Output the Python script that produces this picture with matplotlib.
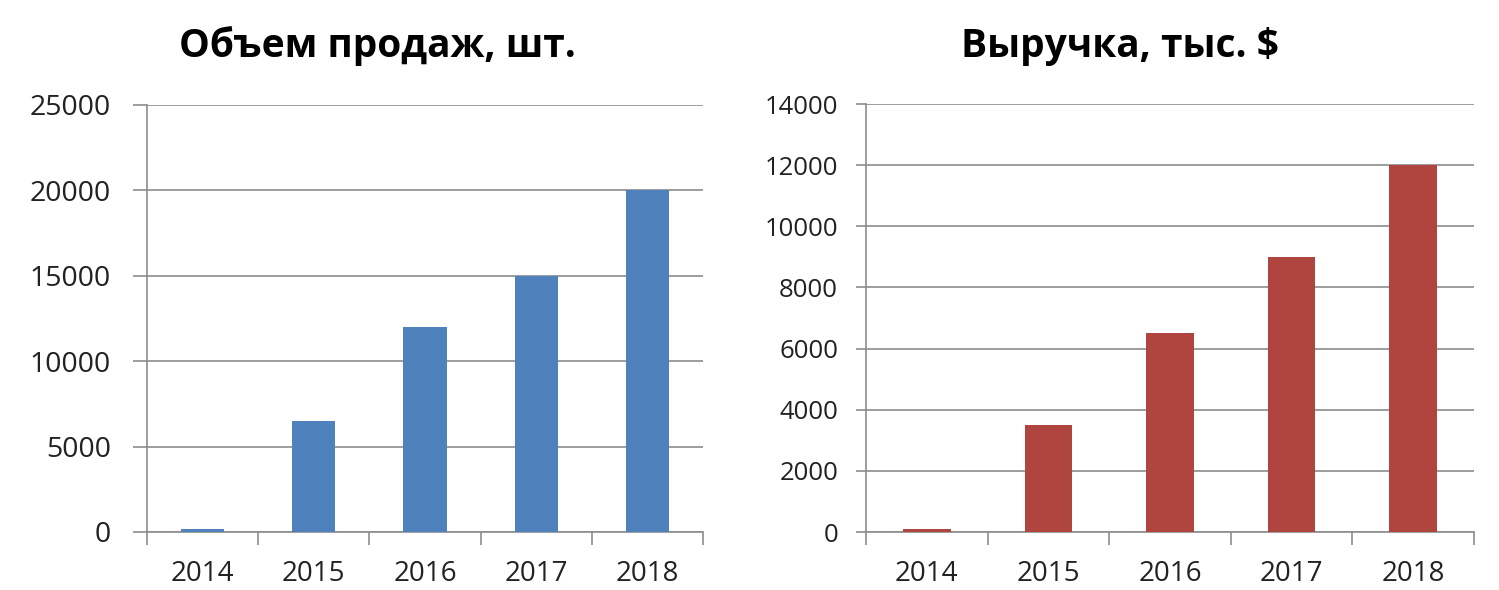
import numpy as np
import matplotlib.pyplot as plt

# Data
years = ["2014", "2015", "2016", "2017", "2018"]
sales_units = [200, 6500, 12000, 15000, 20000]
revenue_k = [100, 3500, 6500, 9000, 12000]

plt.rcParams['font.family'] = ['Open Sans', 'DejaVu Sans']

grid_col = "#8c8c8c"
W, H = 1499, 590

fig = plt.figure(figsize=(W / 100, H / 100), dpi=100)
# axes boxes in pixels: left, right, top, bottom
ax1 = fig.add_axes([147 / W, (H - 532) / H, (703 - 147) / W, (532 - 105) / H])
ax2 = fig.add_axes([866 / W, (H - 532) / H, (1474 - 866) / W, (532 - 104) / H])


def style_axis(ax, values, color, ymax, ystep, ysize, ylen, ypad):
    x = np.arange(len(years))
    ax.bar(x, values, width=0.39, color=color, zorder=3)
    ax.set_xlim(-0.5, len(years) - 0.5)
    ax.set_ylim(0, ymax)
    ax.set_yticks(np.arange(0, ymax + 1, ystep))
    ax.set_xticks(x)
    ax.set_xticklabels(years)
    ax.set_xticks(np.arange(-0.5, len(years)), minor=True)
    ax.tick_params(axis='x', which='major', length=0, labelsize=20, pad=20,
                   labelcolor="#222222")
    ax.tick_params(axis='x', which='minor', length=9.5, width=1.2, color=grid_col)
    ax.tick_params(axis='y', length=ylen, width=1.2, color=grid_col,
                   labelsize=ysize, pad=ypad, labelcolor="#222222")
    ax.grid(axis='y', color=grid_col, lw=1.2, zorder=0)
    for s in ['top', 'right']:
        ax.spines[s].set_visible(False)
    for s in ['left', 'bottom']:
        ax.spines[s].set_color(grid_col)
        ax.spines[s].set_linewidth(1.2)


style_axis(ax1, sales_units, "#4f81bd", 25000, 5000, 20.5, 10, 16)
style_axis(ax2, revenue_k, "#b0443f", 14000, 2000, 18.5, 7, 13)

fig.text(377 / W, 1 - 57 / H, "Объем продаж, шт.", ha='center', va='baseline',
         fontsize=28, fontweight='bold')
fig.text(1120 / W, 1 - 57 / H, "Выручка, тыс. $", ha='center', va='baseline',
         fontsize=28, fontweight='bold')

fig.savefig("out.png", dpi=100)
